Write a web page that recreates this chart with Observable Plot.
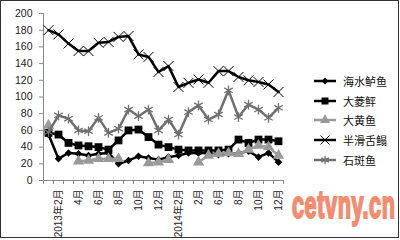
<!DOCTYPE html>
<html>
<head>
<meta charset="utf-8">
<script src="https://cdn.jsdelivr.net/npm/d3@7"></script>
<script src="https://cdn.jsdelivr.net/npm/@observablehq/plot@0.6"></script>
<style>
  body { margin: 0; background: #fff; }
  #wrap { position: relative; width: 400px; height: 240px; overflow: hidden; font-family: "Liberation Sans", "Noto Sans CJK SC", sans-serif; }
  #frame { position: absolute; left: 0; top: 0; width: 397px; height: 236px; border: 1px solid #333; pointer-events: none; }
  #legend { position: absolute; left: 313px; top: 71px; font-size: 11px; color: #111; font-family: "Noto Sans CJK SC", sans-serif; }
  #legend .row { height: 19.7px; display: flex; align-items: center; }
  #legend svg { margin-right: 6px; }
  #wm { position: absolute; left: 292px; top: 184px; font: bold 38px "Liberation Sans", sans-serif; color: #f58b6e; -webkit-text-stroke: 2px #f58b6e; transform-origin: 0 0; transform: scaleX(0.57); letter-spacing: 1px; }
</style>
</head>
<body>
<div id="wrap"><div id="frame"></div></div>
<script>
// ---- data ----
const categories = ["2013年1月","2013年2月","2013年3月","2013年4月","2013年5月","2013年6月","2013年7月","2013年8月","2013年9月","2013年10月","2013年11月","2013年12月",
  "2014年1月","2014年2月","2014年3月","2014年4月","2014年5月","2014年6月","2014年7月","2014年8月","2014年9月","2014年10月","2014年11月","2014年12月"];
const tickIndex = [1,3,5,7,9,11,13,15,17,19,21,23];
const tickLabels = ["2013年2月","4月","6月","8月","10月","12月","2014年2月","2月","6月","8月","10月","12月"];
const yTicks = [0,20,40,60,80,100,120,140,160,180,200];
const seriesNames = ["海水鲈鱼","大菱鲆","大黄鱼","半滑舌鳎","石斑鱼"];
const seabass  = [55,26,33,32,30,32,33,20,24,29,27,25,28,30,33,33,33,31,32,33,35,28,33,22];
const turbot   = [57,55,45,42,41,40,37,48,60,61,52,43,40,37,36,36,36,36,37,49,45,49,49,47];
const croaker  = [66,null,null,23,24,26,26,26,null,null,21,22,25,null,null,22,30,32,33,32,37,42,40,30];
const tonguesole = [180,175,164,155,155,165,166,172,173,151,148,130,137,112,117,121,117,131,131,124,120,118,115,106];
const grouper  = [58,78,74,60,59,75,57,62,85,77,85,60,73,55,82,90,73,79,108,76,91,85,75,87];
const seriesValues = [seabass, turbot, croaker, tonguesole, grouper];

// ---- styles ----
const styles = [
  {symbol: "diamond2", r: 3.4, fill: "#000", stroke: "none", sw: 0, line: "#000"},
  {symbol: "square", r: 4.4, fill: "#000", stroke: "none", sw: 0, line: "#000"},
  {symbol: "triangle", r: 4.2, fill: "#9a9a9a", stroke: "none", sw: 0, line: "#9a9a9a"},
  {symbol: "times", r: 4.6, fill: "none", stroke: "#000", sw: 1, line: "#000"},
  {symbol: "asterisk", r: 4.6, fill: "none", stroke: "#707070", sw: 1.3, line: "#707070"}
];

const table = [];
seriesNames.forEach((name, s) => seriesValues[s].forEach((v, i) => table.push({series: name, s, i, cat: categories[i], v})));

const marks = [
  Plot.ruleX([-0.5], {y1: 0, y2: 200, stroke: "#888"}),
  Plot.ruleY([0], {x1: -0.5, x2: 23.5, stroke: "#888"}),
  Plot.axisY({ticks: yTicks, tickSize: 4, tickPadding: 7, stroke: "#888", fill: "#222", fontSize: 10.5, label: null}),
  Plot.axisX({ticks: d3.range(-0.5, 24, 1), tickSize: 4, tickFormat: () => "", stroke: "#888", label: null}),
  Plot.axisX({ticks: tickIndex, tickSize: 0, tickPadding: 9, tickRotate: -90, fill: "#222", fontSize: 10,
    tickFormat: d => tickLabels[tickIndex.indexOf(d)], label: null})
];
seriesNames.forEach((name, s) => {
  const st = styles[s];
  const rows = table.filter(d => d.s === s);
  marks.push(Plot.line(rows, {x: "i", y: "v", stroke: st.line, strokeWidth: 2.5, curve: "linear"}));
  marks.push(Plot.dot(rows.filter(d => d.v != null), {x: "i", y: "v", symbol: () => st.symbol, r: st.r, fill: st.fill, stroke: st.stroke, strokeWidth: st.sw}));
});

const chart = Plot.plot({
  width: 400, height: 240,
  marginLeft: 43, marginRight: 117, marginTop: 13, marginBottom: 60,
  x: {type: "linear", domain: [-0.5, 23.5]},
  y: {domain: [0, 200]},
  style: {fontFamily: "'Liberation Sans', 'Noto Sans CJK SC', sans-serif", background: "white", overflow: "visible"},
  marks
});
document.getElementById("wrap").prepend(chart);

// legend
const legend = document.createElement("div");
legend.id = "legend";
const symMap = {diamond2: d3.symbolDiamond2, square: d3.symbolSquare, triangle: d3.symbolTriangle, times: d3.symbolTimes, asterisk: d3.symbolAsterisk};
seriesNames.forEach((name, s) => {
  const st = styles[s];
  const row = document.createElement("div");
  row.className = "row";
  const path = d3.symbol(symMap[st.symbol], Math.PI * st.r * st.r * 0.8)();
  row.innerHTML = `<svg width="24" height="12"><line x1="1" x2="23" y1="6" y2="6" stroke="${st.line}" stroke-width="2.5"/><path transform="translate(12,6)" d="${path}" fill="${st.fill}" stroke="${st.stroke}" stroke-width="${st.sw}"/></svg><span>${name}</span>`;
  legend.appendChild(row);
});
document.getElementById("wrap").appendChild(legend);

const wm = document.createElement("div");
wm.id = "wm";
wm.textContent = "cetvny.cn";
document.getElementById("wrap").appendChild(wm);
</script>
</body>
</html>
